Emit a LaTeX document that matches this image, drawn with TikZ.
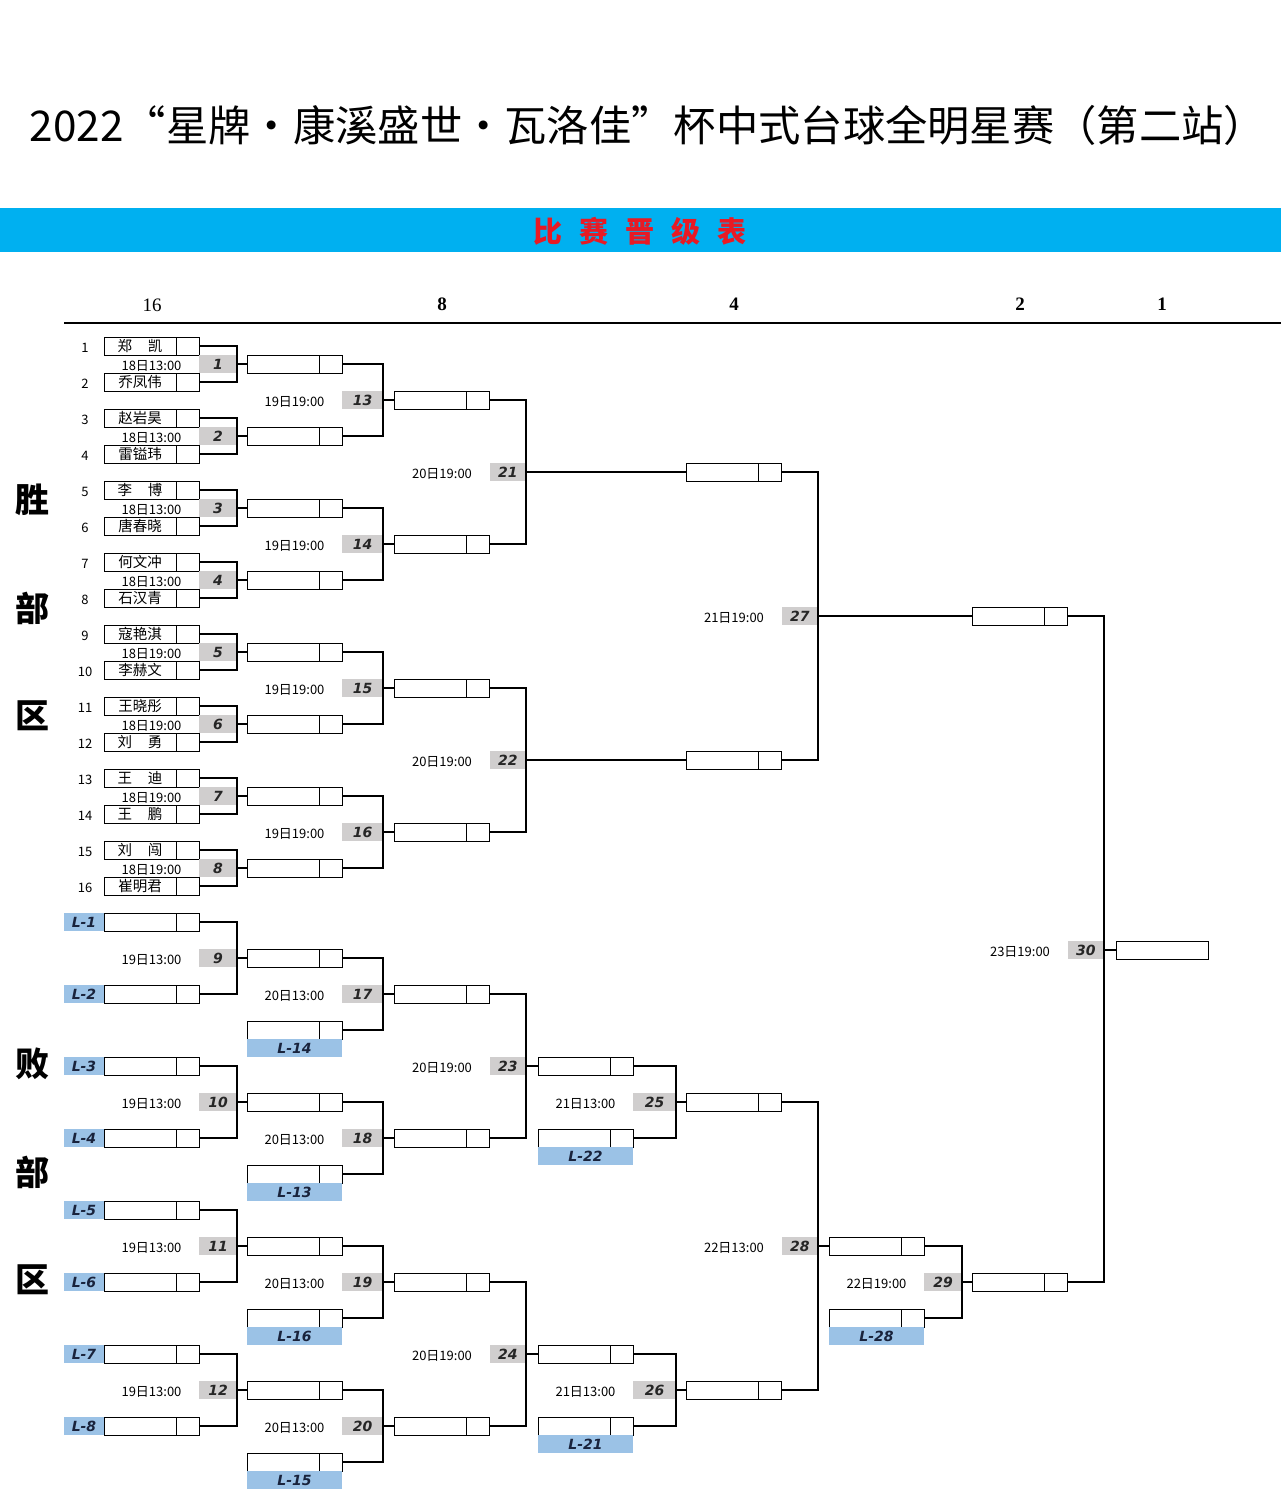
\documentclass[tikz,border=0pt]{standalone}
\usepackage{fontspec}
\setmainfont{Liberation Serif}
\newfontfamily\cjk{Noto Sans CJK SC}
\newfontfamily\numf{DejaVu Sans}
\definecolor{barblue}{RGB}{0,176,240}
\definecolor{titlered}{RGB}{232,26,36}
\definecolor{gfill}{RGB}{208,206,206}
\definecolor{lblue}{RGB}{155,194,230}
\definecolor{labtext}{RGB}{25,35,60}
\newcommand\pn[1]{\makebox[72pt]{\raisebox{-1pt}{#1}}\makebox[23pt]{}}
\newcommand\twoname[2]{#1\hspace{16pt}#2}
\begin{document}
\begin{tikzpicture}[x=1pt,y=-1pt,
  pbox/.style={draw, fill=white, line width=0.9pt, minimum width=95pt, minimum height=18pt,
    inner sep=0pt, outer sep=0pt, font=\cjk\fontsize{14.5}{14.5}\selectfont,
    path picture={\draw[line width=0.9pt] ([xshift=-23pt]path picture bounding box.north east)
      -- ([xshift=-23pt]path picture bounding box.south east);}},
  fbox/.style={draw, fill=white, line width=0.9pt, minimum width=92pt, minimum height=18pt, inner sep=0pt, outer sep=0pt},
  gbox/.style={fill=gfill, minimum height=18pt, inner sep=0pt, outer sep=0pt,
    font=\numf\bfseries\itshape\fontsize{14}{14}\selectfont, text=black!85},
  gc1/.style={gbox, minimum width=38pt},
  gc2/.style={gbox, minimum width=41pt},
  gc3/.style={gbox, minimum width=36.5pt},
  gc4a/.style={gbox, minimum width=43pt},
  gc4/.style={gbox, minimum width=36.5pt},
  gc5a/.style={gbox, minimum width=38pt},
  gc5/.style={gbox, minimum width=36.5pt},
  lab/.style={fill=lblue, minimum height=18pt, inner sep=0pt, outer sep=0pt,
    font=\numf\bfseries\itshape\fontsize{14}{14}\selectfont, text=labtext},
  llab/.style={lab, minimum width=40pt},
  blab/.style={lab, minimum width=95pt},
  date/.style={font=\cjk\fontsize{13}{13}\selectfont, inner sep=0pt, yshift=-1.5pt},
  seed/.style={font=\cjk\fontsize{13}{13}\selectfont, inner sep=0pt, yshift=-1.5pt},
  side/.style={font=\cjk\bfseries\fontsize{34}{34}\selectfont, inner sep=0pt},
  hdr/.style={font=\bfseries\fontsize{19}{19}\selectfont, inner sep=0pt},
  conn/.style={line width=2.6pt}
]
\useasboundingbox (0,0) rectangle (1281,1499);

% title and bar
\node[font=\cjk\fontsize{42.3}{42.3}\selectfont, inner sep=0pt] (title) at (648,125)
  {2022“星牌•康溪盛世•瓦洛佳”杯中式台球全明星赛（第二站）};
\fill[barblue] (0,208) rectangle (1281,252);
\node[font=\cjk\bfseries\fontsize{29}{29}\selectfont, text=titlered, inner sep=0pt] (bartitle) at (640,231)
  {比\hspace{17pt}赛\hspace{17pt}晋\hspace{17pt}级\hspace{17pt}表};

% column headers
\node[font=\fontsize{19}{19}\selectfont, inner sep=0pt] (h16) at (152,305) {16};
\node[hdr] (h8) at (442,304) {8};
\node[hdr] (h4) at (734,304) {4};
\node[hdr] (h2) at (1020,304) {2};
\node[hdr] (h1) at (1162,304) {1};
\coordinate (hl) at (64,323);
\coordinate (hr) at (1281,323);
\draw[line width=2.2pt] (hl) -- (hr);

% side labels
\node[side] (sa) at (33,500) {胜};
\node[side] (sb) at (33,608) {部};
\node[side] (sc) at (33,716) {区};
\node[side] (sd) at (33,1064) {败};
\node[side] (se) at (33,1172) {部};
\node[side] (sf) at (33,1280) {区};

% ---------------- winners bracket ----------------
\foreach \i/\nm in {1/{\twoname{郑}{凯}},2/乔凤伟,3/赵岩昊,4/雷镒玮,5/{\twoname{李}{博}},6/唐春晓,7/何文冲,8/石汉青,
  9/寇艳淇,10/李赫文,11/王晓彤,12/{\twoname{刘}{勇}},13/{\twoname{王}{迪}},14/{\twoname{王}{鹏}},15/{\twoname{刘}{闯}},16/崔明君} {
  \node[seed] (s\i) at (85,{346+36*(\i-1)}) {\i};
  \node[pbox] (p\i) at (151.5,{346+36*(\i-1)}) {\pn{\nm}};
}
\foreach \k in {1,...,8} {
  \pgfmathtruncatemacro\a{2*\k-1}
  \pgfmathtruncatemacro\b{2*\k}
  \pgfmathsetmacro\yy{364+72*(\k-1)}
  \node[gc1] (m\k) at (218,\yy) {\k};
  \node[pbox] (w\k) at (294.5,\yy) {};
  \node[date] (d\k) at (151.5,\yy) {\ifnum\k<5 18日13:00\else 18日19:00\fi};
  \draw[conn] (p\a.east) -| (m\k.east) |- (p\b.east);
  \draw[conn] (m\k.east) -- (w\k.west);
}
% round 2 (13-16)
\foreach \k/\a/\b in {13/1/2,14/3/4,15/5/6,16/7/8} {
  \pgfmathsetmacro\yy{400+144*(\k-13)}
  \node[gc2] (m\k) at (362.5,\yy) {\k};
  \node[pbox] (w\k) at (442,\yy) {};
  \node[date] (d\k) at (294.5,\yy) {19日19:00};
  \draw[conn] (w\a.east) -| (m\k.east) |- (w\b.east);
  \draw[conn] (m\k.east) -- (w\k.west);
}
% round 3 (21,22)
\node[gc3] (m21) at (507.75,472) {21};
\node[date] (d21) at (442,472) {20日19:00};
\node[pbox] (w21) at (734,472) {};
\draw[conn] (w13.east) -| (m21.east) |- (w14.east);
\draw[conn] (m21.east) -- (w21.west);
\node[gc3] (m22) at (507.75,760) {22};
\node[date] (d22) at (442,760) {20日19:00};
\node[pbox] (w22) at (734,760) {};
\draw[conn] (w15.east) -| (m22.east) |- (w16.east);
\draw[conn] (m22.east) -- (w22.west);
% winners final (27)
\node[gc4] (m27) at (799.75,616) {27};
\node[date] (d27) at (734,616) {21日19:00};
\node[pbox] (w27) at (1020,616) {};
\draw[conn] (w21.east) -| (m27.east) |- (w22.east);
\draw[conn] (m27.east) -- (w27.west);

% ---------------- losers bracket ----------------
\foreach \i in {1,...,8} {
  \node[pbox] (lb\i) at (151.5,{922+72*(\i-1)}) {};
  \node[llab] (ll\i) at (84,{922+72*(\i-1)}) {L-\i};
}
\foreach \k/\a/\b in {9/1/2,10/3/4,11/5/6,12/7/8} {
  \pgfmathsetmacro\yy{958+144*(\k-9)}
  \node[gc1] (m\k) at (218,\yy) {\k};
  \node[date] (d\k) at (151.5,\yy) {19日13:00};
  \node[pbox] (w\k) at (294.5,\yy) {};
  \draw[conn] (lb\a.east) -| (m\k.east) |- (lb\b.east);
  \draw[conn] (m\k.east) -- (w\k.west);
}
\foreach \k/\a/\lt in {17/9/14,18/10/13,19/11/16,20/12/15} {
  \pgfmathsetmacro\yy{994+144*(\k-17)}
  \pgfmathsetmacro\yl{1030+144*(\k-17)}
  \pgfmathsetmacro\yb{1048+144*(\k-17)}
  \node[pbox] (dl\lt) at (294.5,\yl) {};
  \node[blab] (ldl\lt) at (294.5,\yb) {L-\lt};
  \node[gc2] (m\k) at (362.5,\yy) {\k};
  \node[date] (d\k) at (294.5,\yy) {20日13:00};
  \node[pbox] (w\k) at (442,\yy) {};
  \draw[conn] (w\a.east) -| (m\k.east) |- (dl\lt.east);
  \draw[conn] (m\k.east) -- (w\k.west);
}
% 23, 24
\node[gc3] (m23) at (507.75,1066) {23};
\node[date] (d23) at (442,1066) {20日19:00};
\node[pbox] (w23) at (585.5,1066) {};
\draw[conn] (w17.east) -| (m23.east) |- (w18.east);
\draw[conn] (m23.east) -- (w23.west);
\node[gc3] (m24) at (507.75,1354) {24};
\node[date] (d24) at (442,1354) {20日19:00};
\node[pbox] (w24) at (585.5,1354) {};
\draw[conn] (w19.east) -| (m24.east) |- (w20.east);
\draw[conn] (m24.east) -- (w24.west);
% 25, 26
\node[pbox] (dl22) at (585.5,1138) {};
\node[blab] (ldl22) at (585.5,1156) {L-22};
\node[gc4a] (m25) at (654.5,1102) {25};
\node[date] (d25) at (585.5,1102) {21日13:00};
\node[pbox] (w25) at (734,1102) {};
\draw[conn] (w23.east) -| (m25.east) |- (dl22.east);
\draw[conn] (m25.east) -- (w25.west);
\node[pbox] (dl21) at (585.5,1426) {};
\node[blab] (ldl21) at (585.5,1444) {L-21};
\node[gc4a] (m26) at (654.5,1390) {26};
\node[date] (d26) at (585.5,1390) {21日13:00};
\node[pbox] (w26) at (734,1390) {};
\draw[conn] (w24.east) -| (m26.east) |- (dl21.east);
\draw[conn] (m26.east) -- (w26.west);
% 28
\node[gc4] (m28) at (799.75,1246) {28};
\node[date] (d28) at (734,1246) {22日13:00};
\node[pbox] (w28) at (876.5,1246) {};
\draw[conn] (w25.east) -| (m28.east) |- (w26.east);
\draw[conn] (m28.east) -- (w28.west);
% 29
\node[pbox] (dl28) at (876.5,1318) {};
\node[blab] (ldl28) at (876.5,1336) {L-28};
\node[gc5a] (m29) at (943,1282) {29};
\node[date] (d29) at (876.5,1282) {22日19:00};
\node[pbox] (w29) at (1020,1282) {};
\draw[conn] (w28.east) -| (m29.east) |- (dl28.east);
\draw[conn] (m29.east) -- (w29.west);
% 30 final
\node[gc5] (m30) at (1085.75,950) {30};
\node[date] (d30) at (1020,950) {23日19:00};
\node[fbox] (champ) at (1162,950) {};
\draw[conn] (w27.east) -| (m30.east) |- (w29.east);
\draw[conn] (m30.east) -- (champ.west);
\end{tikzpicture}
\end{document}
